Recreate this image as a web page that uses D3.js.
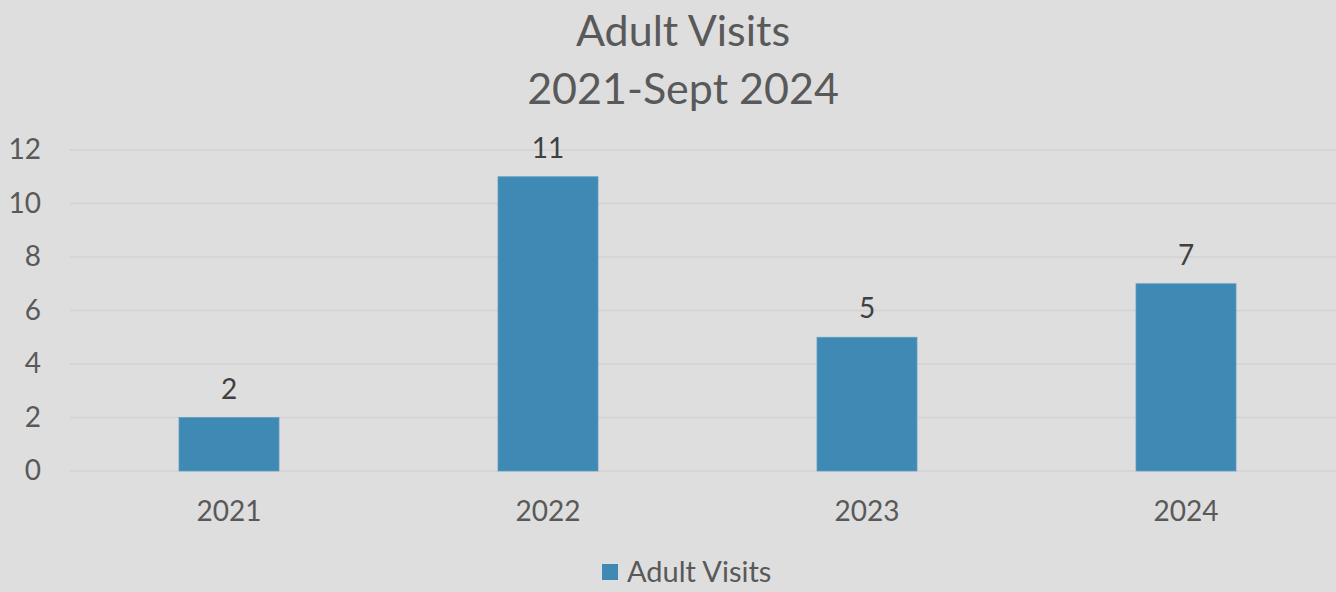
<!DOCTYPE html>
<html>
<head>
<meta charset="utf-8">
<script src="https://cdn.jsdelivr.net/npm/d3@7"></script>
<style>
  html, body { margin: 0; padding: 0; background: #dedede; }
  svg text { font-family: Lato, "Open Sans", sans-serif; }
</style>
</head>
<body>
<div id="canvas"></div>
<script>
var years = ['2021', '2022', '2023', '2024'];
var visits = [2, 11, 5, 7];
var yTicks = [0, 2, 4, 6, 8, 10, 12];
var titleLines = ['Adult Visits', '2021-Sept 2024'];
var seriesName = 'Adult Visits';

var width = 1336, height = 592;

var svg = d3.select('#canvas').append('svg')
  .attr('width', width)
  .attr('height', height);

svg.append('rect')
  .attr('width', width)
  .attr('height', height)
  .attr('fill', '#dedede');

var x = d3.scaleBand()
  .domain(years)
  .range([69.5, 1345.5])
  .paddingInner(0.6865)
  .paddingOuter(0.6865 / 2);

var y = d3.scaleLinear()
  .domain([0, 12])
  .range([471, 150]);

// gridlines
svg.append('g')
  .selectAll('line')
  .data(yTicks)
  .enter().append('line')
  .attr('x1', 70)
  .attr('x2', width)
  .attr('y1', function (d) { return y(d); })
  .attr('y2', function (d) { return y(d); })
  .attr('stroke', '#d2d2d2')
  .attr('stroke-width', 1.5);

// y axis labels
var yAxis = d3.axisLeft(y).tickValues(yTicks).tickSize(0).tickPadding(0);
var ya = svg.append('g')
  .attr('transform', 'translate(41,0)')
  .call(yAxis);
ya.select('.domain').remove();
ya.selectAll('text')
  .attr('font-size', 28)
  .attr('fill', '#595959')
  .attr('font-family', 'Lato, sans-serif');

// x axis labels
var xAxis = d3.axisBottom(x).tickSize(0).tickPadding(0);
var xa = svg.append('g')
  .attr('transform', 'translate(0,501)')
  .call(xAxis);
xa.select('.domain').remove();
xa.selectAll('text')
  .attr('font-size', 28)
  .attr('fill', '#595959')
  .attr('font-family', 'Lato, sans-serif');

// bars
svg.append('g')
  .selectAll('rect')
  .data(visits)
  .enter().append('rect')
  .attr('x', function (d, i) { return x(years[i]); })
  .attr('y', function (d) { return y(d); })
  .attr('width', x.bandwidth())
  .attr('height', function (d) { return y(0) - y(d); })
  .attr('fill', '#3f8ab4')
  .attr('stroke', '#5f9dc2')
  .attr('stroke-width', 0.75);

// data labels
svg.append('g')
  .selectAll('text')
  .data(visits)
  .enter().append('text')
  .attr('x', function (d, i) { return x(years[i]) + x.bandwidth() / 2; })
  .attr('y', function (d) { return y(d) - 19; })
  .attr('text-anchor', 'middle')
  .attr('font-size', 28)
  .attr('fill', '#404040')
  .text(function (d) { return d; });

// title
svg.append('g')
  .selectAll('text')
  .data(titleLines)
  .enter().append('text')
  .attr('x', 683)
  .attr('y', function (d, i) { return 46 + i * 58; })
  .attr('text-anchor', 'middle')
  .attr('font-size', 43)
  .attr('fill', '#595959')
  .text(function (d) { return d; });

// legend
var legend = svg.append('g');
legend.append('rect')
  .attr('x', 602)
  .attr('y', 564)
  .attr('width', 16)
  .attr('height', 16)
  .attr('fill', '#3f8ab4');
legend.append('text')
  .attr('x', 627)
  .attr('y', 582)
  .attr('font-size', 29)
  .attr('fill', '#595959')
  .text(seriesName);
</script>
</body>
</html>
